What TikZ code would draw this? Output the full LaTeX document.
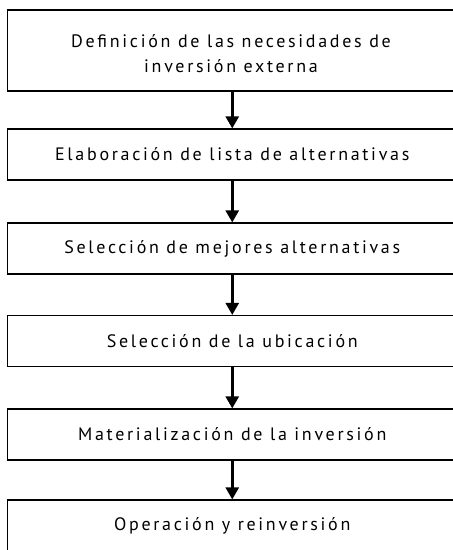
\documentclass[tikz,border=0pt]{standalone}
\usepackage{fontspec}
\setmainfont{PT Sans}[LetterSpace=15]
\usetikzlibrary{arrows.meta}
\begin{document}
\begin{tikzpicture}[x=1pt,y=-1pt,
  stepbox/.style={draw=black,line width=1.2pt,minimum width=449.5pt,inner sep=0pt,align=center,font=\fontsize{18}{25}\selectfont},
  flow/.style={line width=2.6pt,-{Triangle[width=13pt,length=12pt]}}]
\useasboundingbox (0,0) rectangle (453,550);
\clip (0,0) rectangle (453,550);
\node[stepbox,minimum height=81pt] (b1) at (232.25,50.5) {};
\node[align=center,font=\fontsize{18}{25}\selectfont,inner sep=0pt,anchor=base] (t1) at (231,72.7) {Definición de las necesidades de\\inversión externa};
\node[stepbox,minimum height=51pt] (b2) at (232.25,154.5) {Elaboración de lista de alternativas};
\node[stepbox,minimum height=51pt] (b3) at (232.25,248.5) {Selección de mejores alternativas};
\node[stepbox,minimum height=51pt] (b4) at (232.25,341) {Selección de la ubicación};
\node[stepbox,minimum height=51pt] (b5) at (232.25,434.5) {Materialización de la inversión};
\node[stepbox,minimum height=51pt] (b6) at (232.25,525.5) {Operación y reinversión};
\draw[flow] (b1.south) -- (b2.north);
\draw[flow] (b2.south) -- (b3.north);
\draw[flow] (b3.south) -- (b4.north);
\draw[flow] (b4.south) -- (b5.north);
\draw[flow] (b5.south) -- (b6.north);
\end{tikzpicture}
\end{document}
